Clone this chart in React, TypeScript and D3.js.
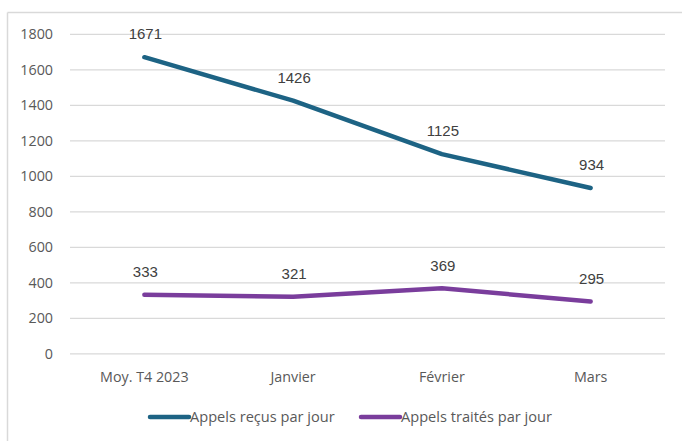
import React from "react";
import * as d3 from "d3";

const categories = ["Moy. T4 2023", "Janvier", "Février", "Mars"];
const recus = [1671, 1426, 1125, 934];
const traites = [333, 321, 369, 295];
const yTicks = [0, 200, 400, 600, 800, 1000, 1200, 1400, 1600, 1800];
const seriesNames = ["Appels reçus par jour", "Appels traités par jour"];
const colors = ["#1d6384", "#7a3d9c"];

const W = 682;
const H = 441;
const left = 70;
const right = 665;
const top = 34.3;
const bottom = 353.8;

const axisFont = "'Open Sans', 'Noto Sans', sans-serif";
const labelFont = "'Liberation Sans', Arial, sans-serif";

const App = () => {
  const x = d3.scalePoint<string>().domain(categories).range([left, right]).padding(0.5);
  const y = d3.scaleLinear().domain([0, 1800]).range([bottom, top]);

  const line = d3
    .line<number>()
    .x((d, i) => x(categories[i]) as number)
    .y((d) => y(d));

  const series = [recus, traites];

  return (
    <svg width={W} height={H} style={{ position: "absolute", left: 0, top: 0, background: "#fff" }}>
      {/* frame */}
      <line x1={7.5} x2={W} y1={12.5} y2={12.5} stroke="#d9d9d9" strokeWidth={1.5} />
      <line x1={7.5} x2={7.5} y1={12.5} y2={H} stroke="#d9d9d9" strokeWidth={1.5} />

      {yTicks.map((t) => (
        <g key={t}>
          <line x1={left} x2={right} y1={y(t)} y2={y(t)} stroke="#d9d9d9" strokeWidth={1.3} />
          <text
            x={53}
            y={y(t)}
            dy="0.35em"
            textAnchor="end"
            fontSize={14.3}
            fontFamily={axisFont}
            fill="#595959"
          >
            {t}
          </text>
        </g>
      ))}

      {categories.map((c) => (
        <text
          key={c}
          x={x(c)}
          y={377}
          dy="0.35em"
          textAnchor="middle"
          fontSize={14.3}
          fontFamily={axisFont}
          fill="#595959"
        >
          {c}
        </text>
      ))}

      {series.map((s, si) => (
        <g key={si}>
          <path
            d={line(s) || ""}
            fill="none"
            stroke={colors[si]}
            strokeWidth={4.5}
            strokeLinecap="round"
            strokeLinejoin="round"
          />
          {s.map((v, i) => (
            <text
              key={i}
              x={(x(categories[i]) as number) + 1}
              y={y(v) - 23}
              dy="0.35em"
              textAnchor="middle"
              fontSize={15}
              fontFamily={labelFont}
              fill="#404040"
            >
              {v}
            </text>
          ))}
        </g>
      ))}

      {/* legend */}
      {seriesNames.map((n, i) => {
        const lx = i === 0 ? 150 : 361;
        return (
          <g key={n}>
            <line
              x1={lx}
              x2={lx + 39}
              y1={417}
              y2={417}
              stroke={colors[i]}
              strokeWidth={4.5}
              strokeLinecap="round"
            />
            <text
              x={lx + 40}
              y={417}
              dy="0.35em"
              fontSize={14.6}
              fontFamily={axisFont}
              fill="#595959"
            >
              {n}
            </text>
          </g>
        );
      })}
    </svg>
  );
};

export default App;
